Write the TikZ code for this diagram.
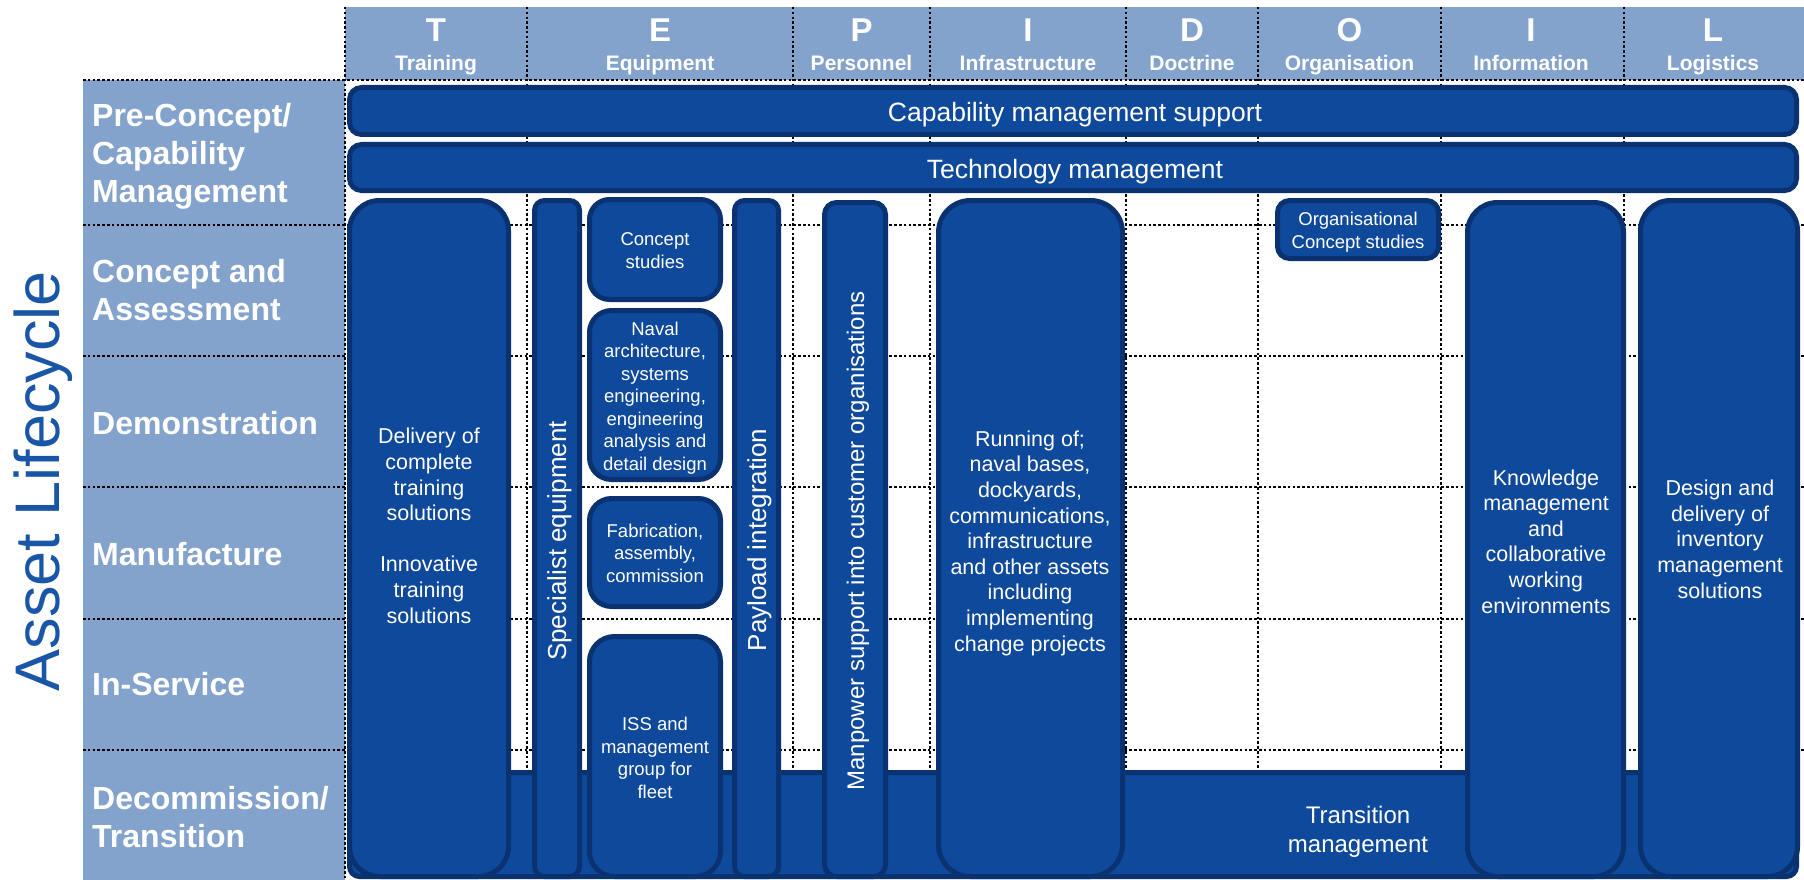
\documentclass[tikz,border=0pt]{standalone}
\usepackage{fontspec}
\setmainfont{Liberation Sans}
\definecolor{band}{RGB}{132,163,204}
\definecolor{bxfill}{RGB}{14,73,155}
\definecolor{bxborder}{RGB}{10,50,112}
\definecolor{asset}{RGB}{26,86,168}
\newcommand\fs[2]{\fontsize{#1}{#2}\selectfont}
\newcommand\rbox[6]{\node[bx, rounded corners=#6pt, minimum width={#4-#2-5}, minimum height={#5-#3-5}] (#1) at ({(#2+#4)/2},{(#3+#5)/2}) {};}
\begin{document}
\begin{tikzpicture}[x=1pt,y=-1pt,
  bx/.style={draw=bxborder, fill=bxfill, line width=5pt, inner sep=0pt},
  gridline/.style={line width=2.5pt, dash pattern=on 2.5pt off 2.3pt, black},
  wt/.style={text=white, inner sep=0pt, align=center},
  hdl/.style={text=white, inner sep=0pt, anchor=base, font=\bfseries\fs{33}{36}},
  hdn/.style={text=white, inner sep=0pt, anchor=base, font=\bfseries\fs{21}{24}},
  rl/.style={text=white, inner sep=0pt, align=left, anchor=base west, font=\bfseries\fs{32}{38}},
  small/.style={wt, anchor=base, font=\fs{18.5}{22.5}},
  mid/.style={wt, anchor=base, font=\fs{21.5}{25.6}},
  rot/.style={wt, rotate=90, anchor=base}]
\useasboundingbox (0,0) rectangle (1804,880);
\fill[white] (0,0) rectangle (1804,880);
% bands
\fill[band] (345,7) rectangle (1804,80);
\fill[band] (83,80) rectangle (345,880);
% grid
\foreach \x in {345,527,793,930,1126,1258,1441,1624} \draw[gridline] (\x,7) -- (\x,880);
\foreach \y in {80,225,356,487,619,750} \draw[gridline] (83,\y) -- (1804,\y);
% header
\node[hdl] (hT) at (436,42) {T};
\node[hdn] (nT) at (436,71) {Training};
\node[hdl] (hE) at (660,42) {E};
\node[hdn] (nE) at (660,71) {Equipment};
\node[hdl] (hP) at (861.5,42) {P};
\node[hdn] (nP) at (861.5,71) {Personnel};
\node[hdl] (hI) at (1028,42) {I};
\node[hdn] (nI) at (1028,71) {Infrastructure};
\node[hdl] (hD) at (1192,42) {D};
\node[hdn] (nD) at (1192,71) {Doctrine};
\node[hdl] (hO) at (1349.5,42) {O};
\node[hdn] (nO) at (1349.5,71) {Organisation};
\node[hdl] (hI2) at (1531,42) {I};
\node[hdn] (nI2) at (1531,71) {Information};
\node[hdl] (hL) at (1713,42) {L};
\node[hdn] (nL) at (1713,71) {Logistics};
% row labels (anchor base = last line baseline)
\node[rl] (r1) at (92,202) {Pre-Concept/\\Capability\\Management};
\node[rl] (r2) at (92,320) {Concept and\\Assessment};
\node[rl] (r3) at (92,434) {Demonstration};
\node[rl] (r4) at (92,565) {Manufacture};
\node[rl] (r5) at (92,695) {In-Service};
\node[rl] (r6) at (92,847) {Decommission/\\Transition};
\node[rotate=90, anchor=base, inner sep=0pt, text=asset, font=\fs{63}{70}] (asset) at (59,481) {Asset Lifecycle};
% boxes
\rbox{trans}{347}{770}{1799}{879}{10}
\rbox{capbar}{347}{85}{1799}{137}{12}
\rbox{techbar}{347}{142}{1799}{193}{12}
\rbox{train}{347}{198}{511}{879}{30}
\rbox{spec}{532}{198}{582}{879}{10}
\rbox{concept}{587}{197}{723}{302}{20}
\rbox{naval}{587}{308}{723}{482}{22}
\rbox{fab}{587}{496}{723}{609}{22}
\rbox{iss}{587}{634}{723}{879}{25}
\rbox{payload}{732}{198}{781}{879}{10}
\rbox{manpower}{822}{200}{888}{879}{12}
\rbox{infra}{936}{198}{1125}{879}{32}
\rbox{org}{1275}{198}{1441}{261}{12}
\rbox{info}{1465}{200}{1626}{879}{30}
\rbox{logi}{1638}{198}{1800}{879}{30}
% texts (anchor base = last line baseline)
\node[wt, anchor=base, font=\fs{26.5}{30}] (captxt) at (1075,122) {Capability management support};
\node[wt, anchor=base, font=\fs{26.5}{30}] (techtxt) at (1075,178.5) {Technology management};
\node[wt, anchor=base, font=\fs{24}{29}] (transtxt) at (1358,852) {Transition\\management};
\node[mid] (traintxt) at (429,623) {Delivery of\\complete\\training\\solutions\\[25.6pt]Innovative\\training\\solutions};
\node[rot, font=\fs{26}{30}] (spectxt) at (566,541) {Specialist equipment};
\node[small] (concepttxt) at (655,268) {Concept\\studies};
\node[small] (navaltxt) at (655,470) {Naval\\architecture,\\systems\\engineering,\\engineering\\analysis and\\detail design};
\node[small] (fabtxt) at (655,582) {Fabrication,\\assembly,\\commission};
\node[small] (isstxt) at (655,798) {ISS and\\management\\group for\\fleet};
\node[rot, font=\fs{26}{30}] (paytxt) at (766,540) {Payload integration};
\node[rot, font=\fs{24}{28}] (mantxt) at (864,541) {Manpower support into customer organisations};
\node[mid] (infratxt) at (1030,651) {Running of;\\naval bases,\\dockyards,\\communications,\\infrastructure\\and other assets\\including\\implementing\\change projects};
\node[small] (orgtxt) at (1358,248) {Organisational\\Concept studies};
\node[mid] (infotxt) at (1546,613) {Knowledge\\management\\and\\collaborative\\working\\environments};
\node[mid] (logitxt) at (1720,598) {Design and\\delivery of\\inventory\\management\\solutions};
\end{tikzpicture}
\end{document}
